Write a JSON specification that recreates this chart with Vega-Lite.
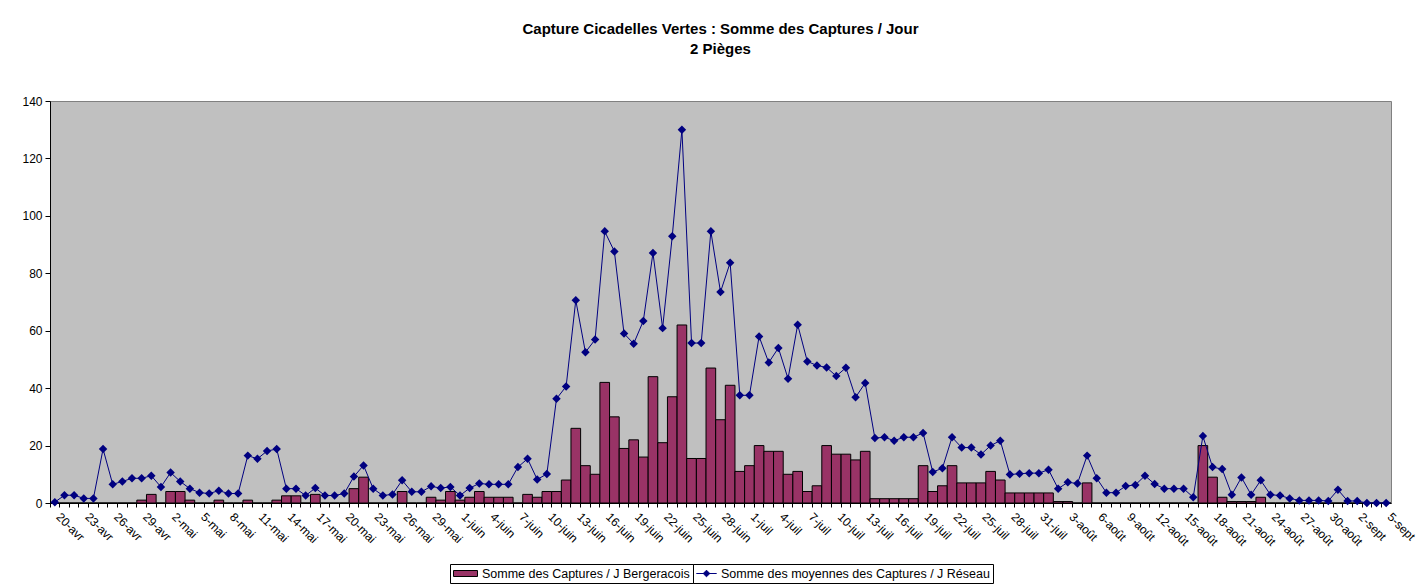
{
  "$schema": "https://vega.github.io/schema/vega-lite/v6.json",
  "width": 1341,
  "height": 402,
  "autosize": {"type": "none"},
  "padding": {"left": 50, "top": 101, "right": 32, "bottom": 82},
  "background": "white",
  "config": {
    "font": "Liberation Sans",
    "view": {"fill": "#C0C0C0", "stroke": "#808080", "strokeWidth": 1},
    "axis": {"labelFont": "Liberation Sans", "labelColor": "black", "domainColor": "black", "tickColor": "black", "grid": false},
    "legend": {"labelFont": "Liberation Sans", "labelFontSize": 12.5, "labelColor": "black", "labelLimit": 0, "padding": 3, "strokeColor": "black", "fillColor": "white"}
  },
  "title": {
    "text": ["Capture Cicadelles Vertes : Somme des Captures / Jour", "2 Pièges"],
    "font": "Liberation Sans",
    "fontSize": 15,
    "fontWeight": "bold",
    "color": "black",
    "anchor": "middle",
    "frame": "group",
    "lineHeight": 20,
    "offset": 38
  },
  "data": {
    "values": [
      {"jour": "20-avr", "bergeracois": 0, "reseau": 0.3},
      {"jour": "21-avr", "bergeracois": 0, "reseau": 2.7},
      {"jour": "22-avr", "bergeracois": 0, "reseau": 2.7},
      {"jour": "23-avr", "bergeracois": 0, "reseau": 1.6},
      {"jour": "24-avr", "bergeracois": 0, "reseau": 1.6},
      {"jour": "25-avr", "bergeracois": 0, "reseau": 18.8},
      {"jour": "26-avr", "bergeracois": 0, "reseau": 6.5},
      {"jour": "27-avr", "bergeracois": 0, "reseau": 7.5},
      {"jour": "28-avr", "bergeracois": 0, "reseau": 8.6},
      {"jour": "29-avr", "bergeracois": 1, "reseau": 8.6},
      {"jour": "30-avr", "bergeracois": 3, "reseau": 9.5},
      {"jour": "1-mai", "bergeracois": 0, "reseau": 5.6},
      {"jour": "2-mai", "bergeracois": 4, "reseau": 10.6},
      {"jour": "3-mai", "bergeracois": 4, "reseau": 7.5},
      {"jour": "4-mai", "bergeracois": 1, "reseau": 5.0},
      {"jour": "5-mai", "bergeracois": 0, "reseau": 3.6},
      {"jour": "6-mai", "bergeracois": 0, "reseau": 3.3},
      {"jour": "7-mai", "bergeracois": 1, "reseau": 4.3},
      {"jour": "8-mai", "bergeracois": 0, "reseau": 3.3},
      {"jour": "9-mai", "bergeracois": 0, "reseau": 3.3},
      {"jour": "10-mai", "bergeracois": 1, "reseau": 16.5},
      {"jour": "11-mai", "bergeracois": 0, "reseau": 15.4},
      {"jour": "12-mai", "bergeracois": 0, "reseau": 18.1},
      {"jour": "13-mai", "bergeracois": 1, "reseau": 18.8},
      {"jour": "14-mai", "bergeracois": 2.5, "reseau": 5.0},
      {"jour": "15-mai", "bergeracois": 2.5, "reseau": 5.0},
      {"jour": "16-mai", "bergeracois": 0, "reseau": 2.6},
      {"jour": "17-mai", "bergeracois": 3, "reseau": 5.2},
      {"jour": "18-mai", "bergeracois": 0, "reseau": 2.6},
      {"jour": "19-mai", "bergeracois": 0, "reseau": 2.6},
      {"jour": "20-mai", "bergeracois": 0, "reseau": 3.3},
      {"jour": "21-mai", "bergeracois": 5, "reseau": 9.2},
      {"jour": "22-mai", "bergeracois": 9, "reseau": 13.1},
      {"jour": "23-mai", "bergeracois": 0, "reseau": 5.0},
      {"jour": "24-mai", "bergeracois": 0, "reseau": 2.6},
      {"jour": "25-mai", "bergeracois": 0, "reseau": 3.0},
      {"jour": "26-mai", "bergeracois": 4, "reseau": 7.9},
      {"jour": "27-mai", "bergeracois": 0, "reseau": 3.9},
      {"jour": "28-mai", "bergeracois": 0, "reseau": 3.9},
      {"jour": "29-mai", "bergeracois": 2, "reseau": 5.8},
      {"jour": "30-mai", "bergeracois": 1, "reseau": 5.2},
      {"jour": "31-mai", "bergeracois": 4, "reseau": 5.6},
      {"jour": "1-juin", "bergeracois": 1, "reseau": 2.6},
      {"jour": "2-juin", "bergeracois": 2, "reseau": 5.2},
      {"jour": "3-juin", "bergeracois": 4, "reseau": 6.8},
      {"jour": "4-juin", "bergeracois": 2, "reseau": 6.5},
      {"jour": "5-juin", "bergeracois": 2, "reseau": 6.5},
      {"jour": "6-juin", "bergeracois": 2, "reseau": 6.5},
      {"jour": "7-juin", "bergeracois": 0, "reseau": 12.5},
      {"jour": "8-juin", "bergeracois": 3, "reseau": 15.4},
      {"jour": "9-juin", "bergeracois": 2, "reseau": 8.2},
      {"jour": "10-juin", "bergeracois": 4, "reseau": 10.1},
      {"jour": "11-juin", "bergeracois": 4, "reseau": 36.3},
      {"jour": "12-juin", "bergeracois": 8, "reseau": 40.6},
      {"jour": "13-juin", "bergeracois": 26, "reseau": 70.6},
      {"jour": "14-juin", "bergeracois": 13, "reseau": 52.5},
      {"jour": "15-juin", "bergeracois": 10, "reseau": 56.9},
      {"jour": "16-juin", "bergeracois": 42, "reseau": 94.6},
      {"jour": "17-juin", "bergeracois": 30, "reseau": 87.6},
      {"jour": "18-juin", "bergeracois": 19, "reseau": 59.0},
      {"jour": "19-juin", "bergeracois": 22, "reseau": 55.5},
      {"jour": "20-juin", "bergeracois": 16, "reseau": 63.4},
      {"jour": "21-juin", "bergeracois": 44, "reseau": 87.1},
      {"jour": "22-juin", "bergeracois": 21, "reseau": 60.9},
      {"jour": "23-juin", "bergeracois": 37, "reseau": 92.9},
      {"jour": "24-juin", "bergeracois": 62, "reseau": 130.0},
      {"jour": "25-juin", "bergeracois": 15.5, "reseau": 55.7},
      {"jour": "26-juin", "bergeracois": 15.5, "reseau": 55.7},
      {"jour": "27-juin", "bergeracois": 47, "reseau": 94.6},
      {"jour": "28-juin", "bergeracois": 29, "reseau": 73.5},
      {"jour": "29-juin", "bergeracois": 41, "reseau": 83.7},
      {"jour": "30-juin", "bergeracois": 11, "reseau": 37.5},
      {"jour": "1-juil", "bergeracois": 13, "reseau": 37.5},
      {"jour": "2-juil", "bergeracois": 20, "reseau": 58.0},
      {"jour": "3-juil", "bergeracois": 18, "reseau": 48.9},
      {"jour": "4-juil", "bergeracois": 18, "reseau": 54.0},
      {"jour": "5-juil", "bergeracois": 10, "reseau": 43.3},
      {"jour": "6-juil", "bergeracois": 11, "reseau": 62.1},
      {"jour": "7-juil", "bergeracois": 4, "reseau": 49.3},
      {"jour": "8-juil", "bergeracois": 6, "reseau": 47.9},
      {"jour": "9-juil", "bergeracois": 20, "reseau": 47.2},
      {"jour": "10-juil", "bergeracois": 17, "reseau": 44.2},
      {"jour": "11-juil", "bergeracois": 17, "reseau": 47.1},
      {"jour": "12-juil", "bergeracois": 15, "reseau": 36.8},
      {"jour": "13-juil", "bergeracois": 18, "reseau": 41.8},
      {"jour": "14-juil", "bergeracois": 1.5, "reseau": 22.6},
      {"jour": "15-juil", "bergeracois": 1.5, "reseau": 22.9},
      {"jour": "16-juil", "bergeracois": 1.5, "reseau": 21.7},
      {"jour": "17-juil", "bergeracois": 1.5, "reseau": 22.9},
      {"jour": "18-juil", "bergeracois": 1.5, "reseau": 22.9},
      {"jour": "19-juil", "bergeracois": 13, "reseau": 24.4},
      {"jour": "20-juil", "bergeracois": 4, "reseau": 10.8},
      {"jour": "21-juil", "bergeracois": 6, "reseau": 12.1},
      {"jour": "22-juil", "bergeracois": 13, "reseau": 22.9},
      {"jour": "23-juil", "bergeracois": 7, "reseau": 19.3},
      {"jour": "24-juil", "bergeracois": 7, "reseau": 19.3},
      {"jour": "25-juil", "bergeracois": 7, "reseau": 16.9},
      {"jour": "26-juil", "bergeracois": 11, "reseau": 20.0},
      {"jour": "27-juil", "bergeracois": 8, "reseau": 21.7},
      {"jour": "28-juil", "bergeracois": 3.5, "reseau": 9.9},
      {"jour": "29-juil", "bergeracois": 3.5, "reseau": 10.2},
      {"jour": "30-juil", "bergeracois": 3.5, "reseau": 10.4},
      {"jour": "31-juil", "bergeracois": 3.5, "reseau": 10.4},
      {"jour": "1-août", "bergeracois": 3.5, "reseau": 11.6},
      {"jour": "2-août", "bergeracois": 0.5, "reseau": 5.0},
      {"jour": "3-août", "bergeracois": 0.5, "reseau": 7.2},
      {"jour": "4-août", "bergeracois": 0, "reseau": 6.8},
      {"jour": "5-août", "bergeracois": 7, "reseau": 16.5},
      {"jour": "6-août", "bergeracois": 0, "reseau": 8.6},
      {"jour": "7-août", "bergeracois": 0, "reseau": 3.6},
      {"jour": "8-août", "bergeracois": 0, "reseau": 3.6},
      {"jour": "9-août", "bergeracois": 0, "reseau": 5.9},
      {"jour": "10-août", "bergeracois": 0, "reseau": 6.3},
      {"jour": "11-août", "bergeracois": 0, "reseau": 9.5},
      {"jour": "12-août", "bergeracois": 0, "reseau": 6.6},
      {"jour": "13-août", "bergeracois": 0, "reseau": 5.0},
      {"jour": "14-août", "bergeracois": 0, "reseau": 5.0},
      {"jour": "15-août", "bergeracois": 0, "reseau": 5.0},
      {"jour": "16-août", "bergeracois": 0, "reseau": 2.0},
      {"jour": "17-août", "bergeracois": 20, "reseau": 23.3},
      {"jour": "18-août", "bergeracois": 9, "reseau": 12.5},
      {"jour": "19-août", "bergeracois": 2, "reseau": 11.8},
      {"jour": "20-août", "bergeracois": 0.5, "reseau": 2.9},
      {"jour": "21-août", "bergeracois": 0.5, "reseau": 8.9},
      {"jour": "22-août", "bergeracois": 0.5, "reseau": 2.9},
      {"jour": "23-août", "bergeracois": 2, "reseau": 7.9},
      {"jour": "24-août", "bergeracois": 0, "reseau": 2.9},
      {"jour": "25-août", "bergeracois": 0, "reseau": 2.6},
      {"jour": "26-août", "bergeracois": 0, "reseau": 1.6},
      {"jour": "27-août", "bergeracois": 0, "reseau": 0.9},
      {"jour": "28-août", "bergeracois": 0, "reseau": 0.9},
      {"jour": "29-août", "bergeracois": 0, "reseau": 0.9},
      {"jour": "30-août", "bergeracois": 0, "reseau": 0.7},
      {"jour": "31-août", "bergeracois": 0, "reseau": 4.6},
      {"jour": "1-sept", "bergeracois": 0, "reseau": 0.7},
      {"jour": "2-sept", "bergeracois": 0, "reseau": 0.7},
      {"jour": "3-sept", "bergeracois": 0, "reseau": 0},
      {"jour": "4-sept", "bergeracois": 0, "reseau": 0},
      {"jour": "5-sept", "bergeracois": 0, "reseau": 0}
    ]
  },
  "encoding": {
    "x": {
      "field": "jour",
      "type": "ordinal",
      "sort": null,
      "scale": {"type": "band", "paddingInner": 0, "paddingOuter": 0},
      "axis": {
        "title": null,
        "bandPosition": 0,
        "labelAngle": 45,
        "labelAlign": "left",
        "labelBaseline": "top",
        "labelFontSize": 12,
        "labelOffset": 7,
        "labelPadding": 4,
        "labelOverlap": false,
        "tickSize": 4,
        "labelExpr": "indexof(['20-avr','23-avr','26-avr','29-avr','2-mai','5-mai','8-mai','11-mai','14-mai','17-mai','20-mai','23-mai','26-mai','29-mai','1-juin','4-juin','7-juin','10-juin','13-juin','16-juin','19-juin','22-juin','25-juin','28-juin','1-juil','4-juil','7-juil','10-juil','13-juil','16-juil','19-juil','22-juil','25-juil','28-juil','31-juil','3-août','6-août','9-août','12-août','15-août','18-août','21-août','24-août','27-août','30-août','2-sept','5-sept'], datum.value) >= 0 ? datum.value : ''"
      }
    }
  },
  "layer": [
    {
      "mark": {"type": "bar", "stroke": "black", "strokeWidth": 1},
      "encoding": {
        "y": {
          "field": "bergeracois",
          "type": "quantitative",
          "scale": {"domain": [0, 140], "nice": false},
          "axis": {"title": null, "values": [0, 20, 40, 60, 80, 100, 120, 140], "labelFontSize": 12, "tickSize": 5, "labelPadding": 3}
        },
        "fill": {
          "datum": "Somme des Captures  / J Bergeracois",
          "type": "nominal",
          "scale": {"domain": ["Somme des Captures  / J Bergeracois"], "range": ["#993366"]},
          "legend": {
            "title": null,
            "orient": "none",
            "legendX": 400,
            "legendY": 463,
            "symbolType": "M-2,-0.5L2,-0.5L2,0.5L-2,0.5Z",
            "symbolSize": 144,
            "symbolOffset": 6,
            "symbolStrokeColor": "black",
            "symbolStrokeWidth": 1,
            "labelOffset": 10
          }
        }
      }
    },
    {
      "mark": {"type": "line", "strokeWidth": 1, "point": {"shape": "diamond", "filled": true, "size": 32, "fill": "#000080", "stroke": "#000080"}},
      "encoding": {
        "y": {"field": "reseau", "type": "quantitative"},
        "stroke": {
          "datum": "Somme des moyennes des Captures / J Réseau",
          "type": "nominal",
          "scale": {"domain": ["Somme des moyennes des Captures / J Réseau"], "range": ["#000080"]},
          "legend": {
            "title": null,
            "orient": "none",
            "legendX": 643,
            "legendY": 463,
            "symbolType": "M-1.7,0L1.7,0M0,-0.55L0.55,0L0,0.55L-0.55,0Z",
            "symbolSize": 144,
            "symbolOffset": 4,
            "symbolFillColor": "#000080",
            "symbolStrokeColor": "#000080",
            "symbolStrokeWidth": 1,
            "labelOffset": 8
          }
        }
      }
    }
  ]
}
